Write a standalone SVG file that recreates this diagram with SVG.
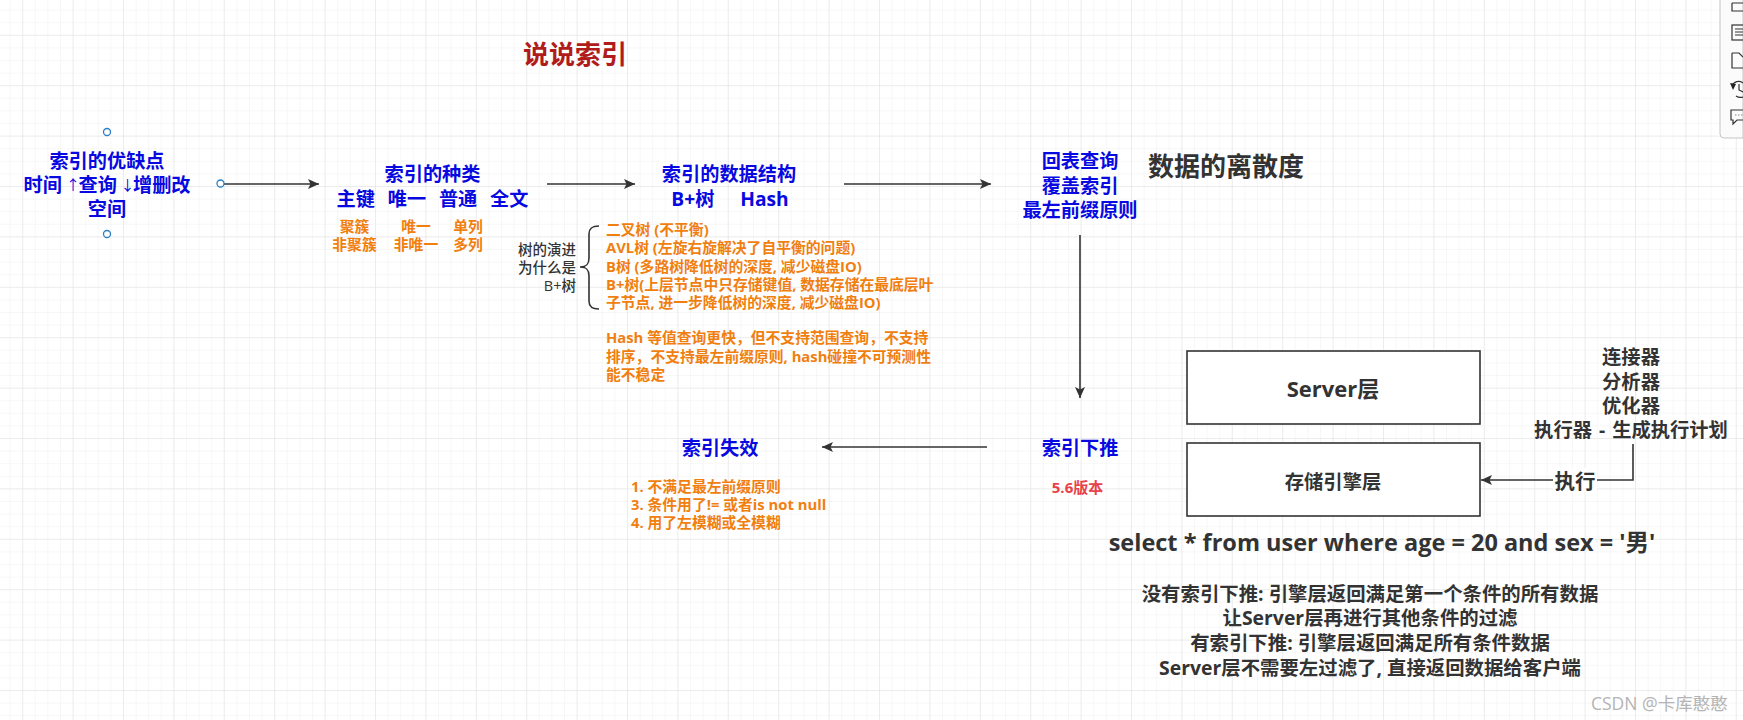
<svg xmlns="http://www.w3.org/2000/svg" width="1743" height="720" viewBox="0 0 1743 720">
<style>
text{font-family:"Open Sans","Noto Sans CJK SC",sans-serif;dominant-baseline:central;font-weight:700}
.m{text-anchor:middle}
.blue{fill:#0808e0;font-size:19.2px}
.or{fill:#f07f10;font-size:14.8px}
.dk{fill:#333;font-size:19.3px}
.sm{fill:#333;font-size:14.5px;font-weight:500}
.ex{fill:#333;font-size:19.4px}
.thin{font-size:14px;font-weight:400}
.conn{fill:none;stroke:#333;stroke-width:1.6}
.hd{fill:#fff;stroke:#2a7fc4;stroke-width:1.3}
.box{fill:#fff;stroke:#333;stroke-width:1.6}
.ic{fill:none;stroke:#333;stroke-width:1.2}
</style>
<defs>
<marker id="ah" markerUnits="userSpaceOnUse" markerWidth="12" markerHeight="10" refX="11" refY="5" orient="auto"><path d="M0 0L11 5L0 10L2.5 5Z" fill="#333"/></marker>
<pattern id="minor" patternUnits="userSpaceOnUse" width="12.6" height="12.6" x="22.2" y="34.8"><path d="M0 0V12.6M0 0H12.6" fill="none" stroke="#efefef" stroke-width="1"/></pattern>
<pattern id="major" patternUnits="userSpaceOnUse" width="50.4" height="50.4" x="22.2" y="34.8"><path d="M0 0V50.4M0 0H50.4" fill="none" stroke="#e2e2e2" stroke-width="1"/></pattern>
</defs>
<rect width="1743" height="720" fill="#fff"/>
<rect width="1743" height="720" fill="url(#minor)"/>
<rect width="1743" height="720" fill="url(#major)"/>

<g id="toolbar">
<path d="M1743 -1H1720V134Q1720 138 1724 138H1743Z" fill="#fbfbfb" stroke="#c4c4c4"/>
<path class="ic" d="M1732 3V11H1743M1732 3H1743"/>
<rect class="ic" x="1732" y="25" width="13" height="15"/><path class="ic" d="M1735 29H1743M1735 32H1743M1735 35H1743"/>
<path class="ic" d="M1732 53V68H1743M1732 53H1739L1743 57"/>
<path class="ic" stroke-width="2" d="M1743 83A7 7 0 0 0 1732 86M1739 84V90L1743 92M1736 96A8 8 0 0 0 1743 97"/><path d="M1730 83L1736 84L1733 90Z" fill="#222"/>
<path class="ic" d="M1743 110H1731V120H1733V124L1737 120H1743"/><path d="M1735 115H1743" fill="none" stroke="#888" stroke-dasharray="1.5 1.5"/>
</g>

<g id="connectors">
<path class="conn" marker-end="url(#ah)" d="M224 184H319"/>
<path class="conn" marker-end="url(#ah)" d="M547 184H635"/>
<path class="conn" marker-end="url(#ah)" d="M844 184H991"/>
<path class="conn" marker-end="url(#ah)" d="M1080 235V398"/>
<path class="conn" marker-end="url(#ah)" d="M987 447H822"/>
<path class="conn" marker-end="url(#ah)" d="M1633 444V480H1481"/>
<path class="conn" stroke-width="1.2" d="M599 226C592 226 589 228 589 234V258C589 264 587 267 580 267C587 267 589 270 589 276V301C589 307 592 309 599 309"/>
</g>

<g id="title"><text class="m" x="575" y="54" style="font-size:26px;fill:#b01c1c">说说索引</text></g>

<g id="node-pros-cons">
<text class="m blue" x="107" y="160">索引的优缺点</text>
<text class="blue" y="184"><tspan x="23.500">时间</tspan><tspan x="66" class="thin">↑</tspan><tspan x="78.500">查询</tspan><tspan x="120.500" class="thin">↓</tspan><tspan x="133">增删改</tspan></text>
<text class="m blue" x="107" y="208">空间</text>
<circle class="hd" cx="107" cy="132" r="3.5"/>
<circle class="hd" cx="107" cy="234" r="3.5"/>
<circle class="hd" cx="220.5" cy="183.5" r="3.5"/>
</g>

<g id="node-types">
<text class="m blue" x="432.500" y="173">索引的种类</text>
<text class="m blue" x="432.500" y="198" xml:space="preserve" style="word-spacing:1.4px">主键  唯一  普通  全文</text>
<text class="m or" x="354.5" y="226">聚簇</text>
<text class="m or" x="354.5" y="244">非聚簇</text>
<text class="m or" x="416" y="226">唯一</text>
<text class="m or" x="416" y="244">非唯一</text>
<text class="m or" x="468" y="226">单列</text>
<text class="m or" x="468" y="244">多列</text>
</g>

<g id="node-structure">
<text class="m blue" x="729" y="173">索引的数据结构</text>
<text class="m blue" x="730" y="198" xml:space="preserve" style="word-spacing:1.5px">B+树    Hash</text>
</g>

<g id="node-tree-label">
<text class="sm" text-anchor="end" x="576" y="249">树的演进</text>
<text class="sm" text-anchor="end" x="576" y="267">为什么是</text>
<text class="sm" text-anchor="end" x="576" y="285">B+树</text>
</g>

<g id="node-tree-list">
<text class="or" x="606" y="229">二叉树 (不平衡)</text>
<text class="or" x="606" y="247">AVL树 (左旋右旋解决了自平衡的问题)</text>
<text class="or" x="606" y="265.500">B树 (多路树降低树的深度, 减少磁盘IO)</text>
<text class="or" x="606" y="284">B+树(上层节点中只存储键值, 数据存储在最底层叶</text>
<text class="or" x="606" y="302">子节点, 进一步降低树的深度, 减少磁盘IO)</text>
</g>

<g id="node-hash">
<text class="or" x="606" y="337">Hash 等值查询更快，但不支持范围查询，不支持</text>
<text class="or" x="606" y="356">排序，不支持最左前缀原则, hash碰撞不可预测性</text>
<text class="or" x="606" y="374">能不稳定</text>
</g>

<g id="node-lookup">
<text class="m blue" x="1080" y="160">回表查询</text>
<text class="m blue" x="1080" y="185">覆盖索引</text>
<text class="m blue" x="1080" y="209">最左前缀原则</text>
</g>

<g id="node-cardinality"><text x="1148" y="166" style="font-size:26px;fill:#333">数据的离散度</text></g>

<g id="node-pushdown">
<text class="m blue" x="1080" y="447">索引下推</text>
<text class="m" x="1077.500" y="487" style="font-size:15px;fill:#e8414a">5.6版本</text>
</g>

<g id="node-invalid">
<text class="m blue" x="720" y="447">索引失效</text>
<text class="or" x="631" y="486">1. 不满足最左前缀原则</text>
<text class="or" x="631" y="504">3. 条件用了!= 或者is not null</text>
<text class="or" x="631" y="522">4. 用了左模糊或全模糊</text>
</g>

<g id="node-server">
<rect class="box" x="1187" y="351" width="293" height="73"/>
<text class="m" x="1333" y="388" style="font-size:22px;fill:#333">Server层</text>
</g>

<g id="node-engine">
<rect class="box" x="1187" y="443" width="293" height="73"/>
<text class="m dk" x="1333" y="481">存储引擎层</text>
</g>

<g id="node-components">
<text class="m dk" x="1631" y="356">连接器</text>
<text class="m dk" x="1631" y="381">分析器</text>
<text class="m dk" x="1631" y="405">优化器</text>
<text class="m dk" x="1631" y="429" style="word-spacing:2px">执行器 - 生成执行计划</text>
</g>

<g id="label-exec">
<rect x="1553" y="468" width="44" height="24" fill="#fff"/>
<text class="m" x="1575" y="481" style="font-size:20.5px;fill:#333">执行</text>
</g>

<g id="node-sql"><text class="m" x="1382" y="542" style="font-size:23.5px;fill:#333">select * from user where age = 20 and sex = '男'</text></g>

<g id="node-explain">
<text class="m ex" x="1370" y="593">没有索引下推: 引擎层返回满足第一个条件的所有数据</text>
<text class="m ex" x="1370" y="617">让Server层再进行其他条件的过滤</text>
<text class="m ex" x="1370" y="642">有索引下推: 引擎层返回满足所有条件数据</text>
<text class="m ex" x="1370" y="667">Server层不需要左过滤了, 直接返回数据给客户端</text>
</g>

<g id="watermark"><text x="1591" y="703" style="font-size:17.500px;font-weight:400;fill:#b4b4b4">CSDN @卡库憨憨</text></g>
</svg>
